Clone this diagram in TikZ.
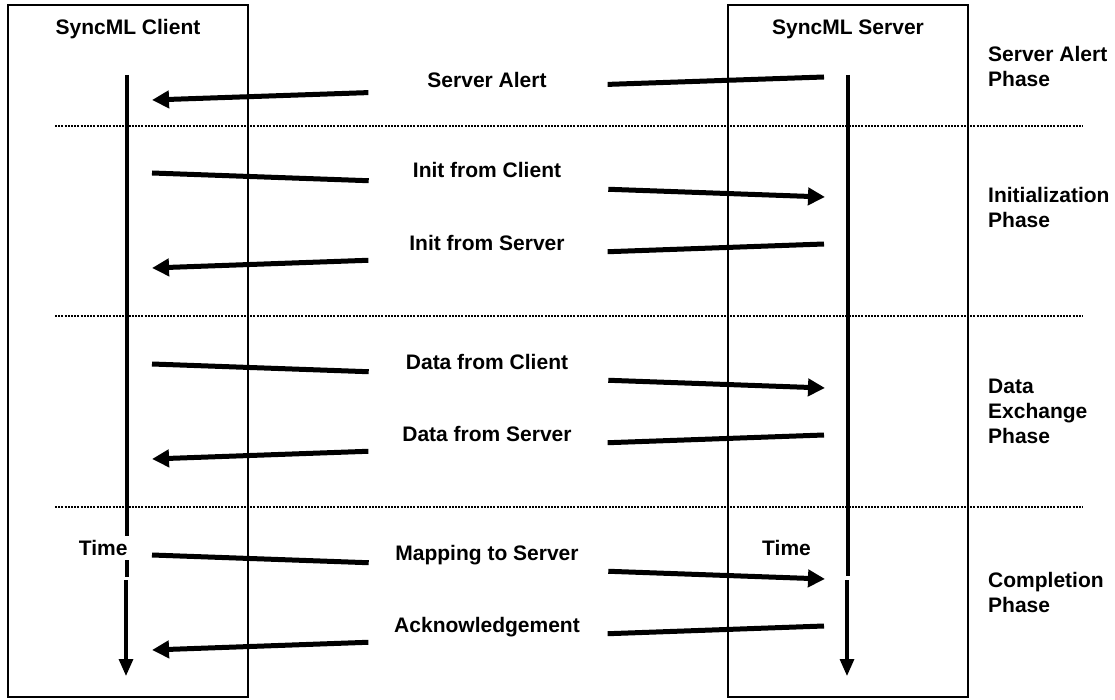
\documentclass[tikz,border=0pt]{standalone}
\usepackage{fontspec}
\setmainfont{Liberation Sans}
\usetikzlibrary{arrows.meta,calc}

\tikzset{
  lbl/.style={font=\fontsize{21}{25}\selectfont\bfseries, inner sep=0pt},
  phase/.style={lbl, align=left, anchor=west},
  timelbl/.style={lbl, fill=white, anchor=west, minimum height=24pt, text depth=0pt},
  msg/.style={line width=5pt},
  msgtip/.style={msg, -{Triangle[length=17pt,width=17pt]}},
  life/.style={line width=3.2pt},
  sep/.style={line width=2.6pt, dash pattern=on 2pt off 1.2pt},
  box/.style={draw, line width=1.9pt, minimum width=240pt, minimum height=692pt, inner sep=0pt}
}
\newcommand{\msgarrow}[2]{%
  \draw[msg] (#1) -- ($(#1)!0.322!(#2)$);
  \draw[msgtip] ($(#1)!0.678!(#2)$) -- (#2);
}

\begin{document}
\begin{tikzpicture}[x=1pt,y=-1pt]
\useasboundingbox (0,0) rectangle (1115,700);
\node[box] (clientbox) at (128,351) {};
\node[box] (serverbox) at (848,351) {};
\node[lbl] (client) at (128,29) {SyncML Client};
\node[lbl] (server) at (848,29) {SyncML Server};

\draw[life] (127,75) -- (127,577);
\draw[life,-{Triangle[length=17pt,width=14pt]}] (126,580) -- (126,676);
\draw[life] (848,75) -- (848,576);
\draw[life,-{Triangle[length=17pt,width=14pt]}] (847,580) -- (847,676);
\node[timelbl, minimum width=66pt] (ctime) at (70,548) {Time};
\node[timelbl] (stime) at (762,548) {Time};

\draw[sep] (55,126) -- (1083,126);
\draw[sep] (55,316) -- (1083,316);
\draw[sep] (55,507) -- (1083,507);

\node[phase] (p1) at (988,66) {Server Alert\\Phase};
\node[phase] (p2) at (988,207) {Initialization\\Phase};
\node[phase] (p3) at (988,411) {Data\\Exchange\\Phase};
\node[phase] (p4) at (988,592) {Completion\\Phase};

\coordinate (c1) at (152,100); \coordinate (s1) at (824,77);
\coordinate (c2) at (152,173); \coordinate (s2) at (825,197);
\coordinate (c3) at (152,268); \coordinate (s3) at (824,244);
\coordinate (c4) at (152,364); \coordinate (s4) at (825,388);
\coordinate (c5) at (152,459); \coordinate (s5) at (824,435);
\coordinate (c6) at (152,555); \coordinate (s6) at (825,579);
\coordinate (c7) at (152,650); \coordinate (s7) at (824,626);

\node[lbl] (m1) at (487,80) {Server Alert};
\node[lbl] (m2) at (487,170) {Init from Client};
\node[lbl] (m3) at (487,243) {Init from Server};
\node[lbl] (m4) at (487,362) {Data from Client};
\node[lbl] (m5) at (487,434) {Data from Server};
\node[lbl] (m6) at (487,555) {Mapping to Server};
\node[lbl] (m7) at (487,627) {Acknowledgement};

\msgarrow{s1}{c1}
\msgarrow{c2}{s2}
\msgarrow{s3}{c3}
\msgarrow{c4}{s4}
\msgarrow{s5}{c5}
\msgarrow{c6}{s6}
\msgarrow{s7}{c7}
\end{tikzpicture}
\end{document}
